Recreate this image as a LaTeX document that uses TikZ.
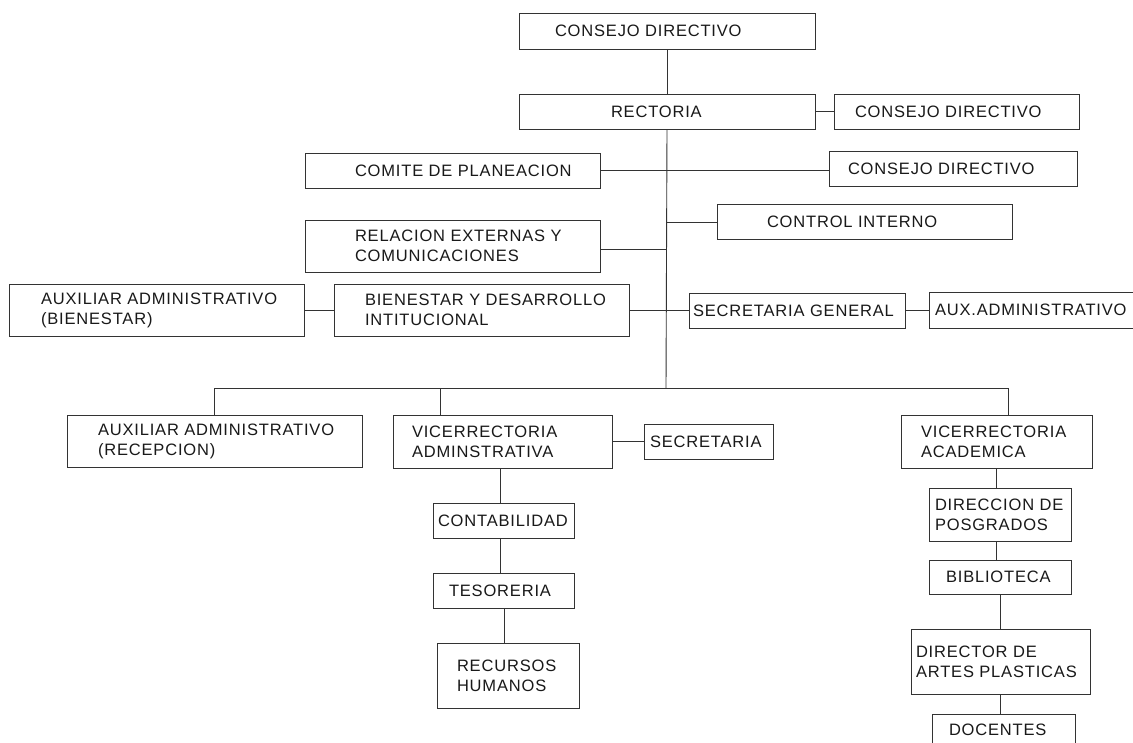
\documentclass[tikz,border=0pt]{standalone}
\usepackage{fontspec}
\setmainfont{Liberation Sans}[LetterSpace=5]
\begin{document}
\begin{tikzpicture}[x=1pt,y=-1pt,
  box/.style={draw=black!80,line width=0.9pt,inner sep=0pt,outer sep=0pt,rectangle},
  txt/.style={inner sep=0pt,outer sep=0pt,align=left,text=black!90,
    font=\fontsize{16.5}{20}\selectfont},
  conn/.style={draw=black!80,line width=0.9pt}]
\useasboundingbox[fill=white] (0,0) rectangle (1133,742);
\newcommand\bx[7]{%
  \node[box,minimum width={(#4-#2)*1pt},minimum height={(#5-#3)*1pt}] (#1) at ({(#2+#4)/2},{(#3+#5)/2}) {};
  \node[txt,anchor=west] (#1t) at (#6,{(#3+#5)/2}) {#7};}
% boxes
\bx{cd}{519}{13}{815}{49}{555}{CONSEJO DIRECTIVO}
\bx{rect}{519}{94}{815}{129}{611}{RECTORIA}
\bx{cdb}{834}{94}{1079}{129}{855}{CONSEJO DIRECTIVO}
\bx{com}{305}{153}{600}{188}{355}{COMITE DE PLANEACION}
\bx{cdc}{829}{151}{1077}{186}{848}{CONSEJO DIRECTIVO}
\bx{ctl}{717}{204}{1012}{239}{767}{CONTROL INTERNO}
\bx{rel}{305}{220}{600}{272}{355}{RELACION EXTERNAS Y\\COMUNICACIONES}
\bx{auxb}{9}{284}{304}{336}{41}{AUXILIAR ADMINISTRATIVO\\(BIENESTAR)}
\bx{bien}{334}{284}{629}{336}{365}{BIENESTAR Y DESARROLLO\\INTITUCIONAL}
\bx{sg}{689}{293}{905}{328}{693}{SECRETARIA GENERAL}
\bx{auxa}{929}{292}{1145}{328}{935}{AUX.ADMINISTRATIVO}
\bx{auxr}{67}{415}{362}{467}{98}{AUXILIAR ADMINISTRATIVO\\(RECEPCION)}
\bx{vadm}{393}{415}{612}{468}{412}{VICERRECTORIA\\ADMINSTRATIVA}
\bx{sec}{644}{424}{773}{459}{650}{SECRETARIA}
\bx{cont}{433}{503}{574}{538}{438}{CONTABILIDAD}
\bx{tes}{433}{573}{574}{608}{449}{TESORERIA}
\bx{rrhh}{437}{643}{579}{708}{457}{RECURSOS\\HUMANOS}
\bx{vaca}{901}{415}{1092}{468}{921}{VICERRECTORIA\\ACADEMICA}
\bx{pos}{929}{488}{1071}{541}{935}{DIRECCION DE\\POSGRADOS}
\bx{bib}{929}{560}{1071}{594}{946}{BIBLIOTECA}
\bx{art}{911}{629}{1090}{694}{916}{DIRECTOR DE\\ARTES PLASTICAS}
\bx{doc}{932}{714}{1075}{746}{949}{DOCENTES}
% coordinates on the trunk
\coordinate (tctl) at (666,222);
\coordinate (trel) at (666,249);
\coordinate (bus) at (666,388);
\coordinate (busl) at (214,388);
\coordinate (busm) at (440,388);
\coordinate (busr) at (1008,388);
% connectors
\draw[conn] (cd.south) -- (rect.north);
\draw[conn] (rect.south) -- (bus);
\draw[conn] (rect.east) -- (cdb.west);
\draw[conn] (com.east) -- (com.east -| cdc.west);
\draw[conn] (tctl) -- (tctl -| ctl.west);
\draw[conn] (trel -| rel.east) -- (trel);
\draw[conn] (auxb.east) -- (bien.east -| bien.west);
\draw[conn] (bien.east) -- (bien.east -| sg.west);
\draw[conn] (sg.east) -- (sg.east -| auxa.west);
\draw[conn] (busl) -- (busr);
\draw[conn] (busl) -- (busl |- auxr.north);
\draw[conn] (busm) -- (busm |- vadm.north);
\draw[conn] (busr) -- (busr |- vaca.north);
\draw[conn] (vadm.east |- sec.west) -- (sec.west);
\draw[conn] (vadm.south -| 500,0) -- (cont.north -| 500,0);
\draw[conn] (cont.south -| 500,0) -- (tes.north -| 500,0);
\draw[conn] (tes.south -| 504,0) -- (rrhh.north -| 504,0);
\draw[conn] (vaca.south -| 996,0) -- (pos.north -| 996,0);
\draw[conn] (pos.south -| 996,0) -- (bib.north -| 996,0);
\draw[conn] (bib.south -| 1000,0) -- (art.north -| 1000,0);
\draw[conn] (art.south -| 1000,0) -- (doc.north -| 1000,0);
\end{tikzpicture}
\end{document}
